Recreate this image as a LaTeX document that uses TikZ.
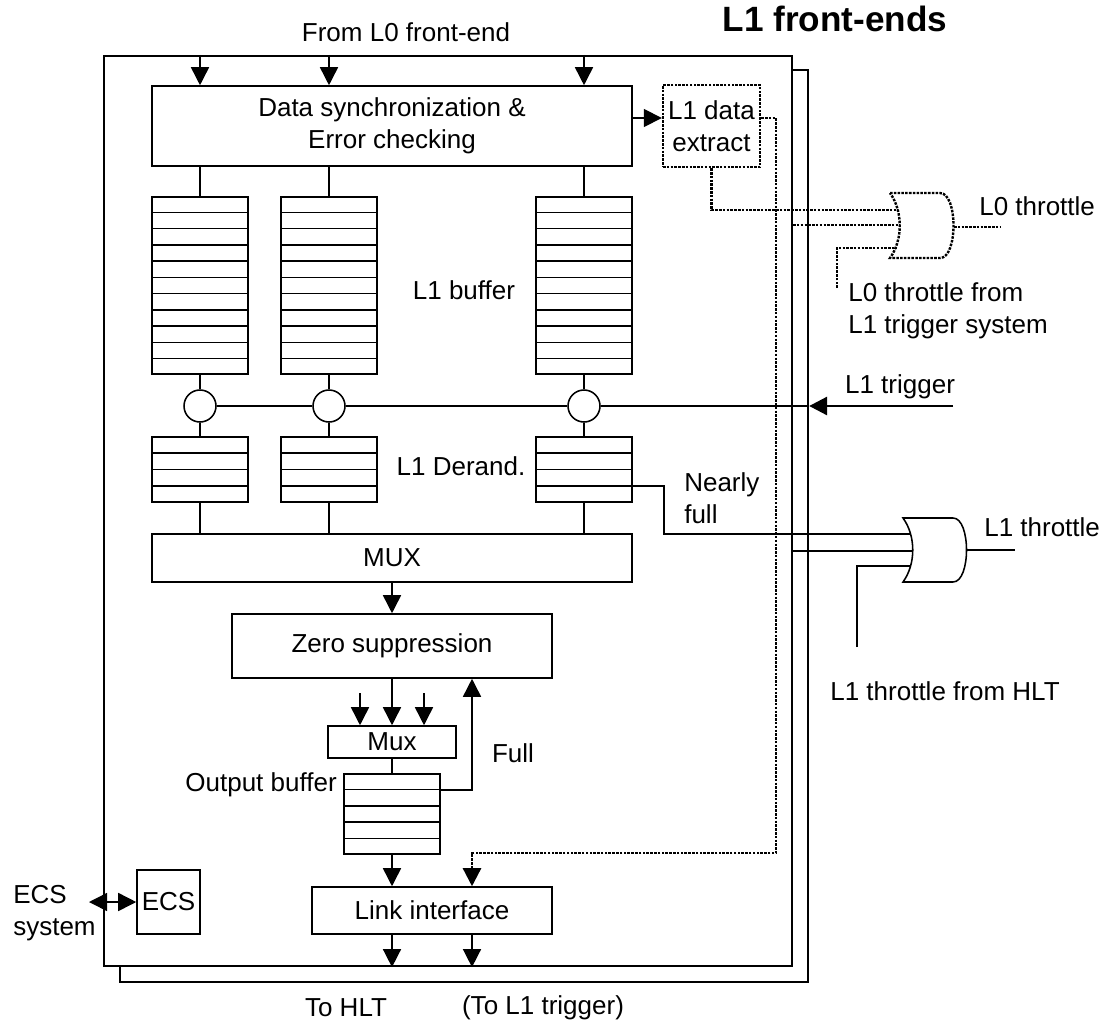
\documentclass[tikz,border=0pt]{standalone}
\usepackage{fontspec}
\setmainfont{Liberation Sans}
\usetikzlibrary{positioning, calc, arrows.meta}

\newcommand{\lblfont}{\fontsize{18.5}{22.7}\selectfont}

\begin{document}
\begin{tikzpicture}[x=0.25mm, y=-0.25mm,
    box/.style={draw, line width=1.1pt, fill=white, inner sep=0pt, align=center, font=\lblfont},
    board/.style={draw, line width=1.6pt, fill=white, inner sep=0pt},
    fifo/.style={box, minimum width=24mm},
    joint/.style={circle, draw, line width=1.1pt, fill=white, minimum size=8mm, inner sep=0pt},
    lbl/.style={inner sep=0pt, font=\lblfont},
    wire/.style={line width=1.1pt},
    dotline/.style={line width=1.7pt, dash pattern=on 1.8pt off 0.9pt},
    arr/.style={wire, ->},
    >={Triangle[length=4.5mm, width=4.5mm]}]
  \useasboundingbox (0,0) rectangle (1106,1025);

  % boards
  \node[board, minimum width=172mm, minimum height=228mm] (back) at (464,526) {};
  \node[board, minimum width=172mm, minimum height=227.5mm] (front) at (448,511) {};

  \node[lbl, font=\bfseries\fontsize{25}{30}\selectfont] (title) at (835,19) {L1 front-ends};
  \node[lbl] (from) at (406,32) {From L0 front-end};

  % data path
  \node[box, minimum width=120mm, minimum height=20mm] (sync) at (392,126) {Data synchronization \&\\Error checking};
  \node[box, dotline, minimum width=24.25mm, minimum height=20.5mm] (ext) at (711.5,126) {L1 data\\extract};

  \node[fifo, minimum height=44.25mm] (b1) at (200,285.5) {};
  \node[fifo, minimum height=44.25mm] (b2) at (329,285.5) {};
  \node[fifo, minimum height=44.25mm] (b3) at (584,285.5) {};
  \foreach \b in {b1,b2,b3}
    \foreach \k in {1,...,10}
      \draw[wire] ($(\b.north west)!{\k/11}!(\b.south west)$) -- ($(\b.north east)!{\k/11}!(\b.south east)$);
  \node[lbl] (bufl) at (464,290) {L1 buffer};

  \node[joint] (c1) at (200,406) {};
  \node[joint] (c2) at (329,406) {};
  \node[joint] (c3) at (584,406) {};

  \node[fifo, minimum height=16.25mm] (d1) at (200,469.5) {};
  \node[fifo, minimum height=16.25mm] (d2) at (329,469.5) {};
  \node[fifo, minimum height=16.25mm] (d3) at (584,469.5) {};
  \foreach \b in {d1,d2,d3}
    \foreach \k in {1,2,3}
      \draw[wire] ($(\b.north west)!{\k/4}!(\b.south west)$) -- ($(\b.north east)!{\k/4}!(\b.south east)$);
  \node[lbl] (derl) at (461,466) {L1 Derand.};

  \node[box, minimum width=120mm, minimum height=12mm] (mux) at (392,558) {MUX};
  \node[box, minimum width=80mm, minimum height=16mm] (zs) at (392,646) {Zero suppression};
  \node[box, minimum width=32mm, minimum height=8mm] (smux) at (392,742) {Mux};
  \node[fifo, minimum height=20mm] (ob) at (392,814) {};
  \foreach \k in {1,...,4}
    \draw[wire] ($(ob.north west)!{\k/5}!(ob.south west)$) -- ($(ob.north east)!{\k/5}!(ob.south east)$);
  \node[lbl, anchor=east] (obl) at (337,785) {Output buffer};
  \node[box, minimum width=60mm, minimum height=11.75mm] (link) at (432,910.5) {Link interface};
  \node[box, minimum width=15.75mm, minimum height=16mm] (ecs) at (168.5,902) {ECS};

  \foreach \i in {1,2,3} {
    \draw[arr] (front.north -| b\i) -- (sync.north -| b\i);
    \draw[wire] (sync.south -| b\i) -- (b\i.north);
    \draw[wire] (b\i.south) -- (c\i.north);
    \draw[wire] (c\i.south) -- (d\i.north);
    \draw[wire] (d\i.south) -- (mux.north -| d\i);
  }
  \draw[arr] ([yshift=2mm]sync.east) -- ([yshift=2mm]ext.west);

  \draw[arr] (mux) -- (zs);
  \draw[arr] (zs) -- (smux);
  \coordinate (inl) at (360,693);
  \coordinate (inr) at (424,693);
  \draw[arr] (inl) -- (inl |- smux.north);
  \draw[arr] (inr) -- (inr |- smux.north);
  \draw[wire] (smux) -- (ob);
  \draw[arr] ([yshift=6mm]ob.east) -| ([xshift=20mm]zs.south);
  \node[lbl] (fulll) at (513,753) {Full};
  \draw[arr] (ob) -- (ob |- link.north);
  \coordinate (tl1) at ([xshift=10mm]link.south);
  \draw[arr] (link.south -| ob) -- (front.south -| ob);
  \draw[arr] (tl1) -- (tl1 |- front.south);
  \node[lbl] (tohlt) at (346,1008) {To HLT};
  \node[lbl] (tol1) at (543,1008) {(To L1 trigger)};

  % ECS
  \coordinate (ecsl) at (89,902);
  \draw[wire, <->] (ecsl) -- (ecs.west);
  \node[lbl, anchor=west, align=left] (ecst) at (13,913) {ECS\\system};

  % L1 data extract -> link and L0 throttle
  \draw[dotline, ->] ([yshift=2mm]ext.east) -| (776,853) -| ([xshift=10mm]link.north);
  \draw[dotline, shift={(890,193)}] (0,0) -- (50,0) .. controls (68,0) and (68,65) .. (50,65)
    -- (0,65) .. controls (13,47) and (13,18) .. (0,0) -- cycle;
  \coordinate (g0a) at (898,210);
  \coordinate (g0b) at (900,225);
  \coordinate (g0c) at (896,248);
  \coordinate (g0o) at (954,227);
  \coordinate (l0in) at (837,288);
  \coordinate (l0out) at (1000,227);
  \draw[dotline] (ext.south) |- (g0a);
  \draw[dotline] (front.east |- g0b) -- (g0b);
  \draw[dotline] (l0in) |- (g0c);
  \draw[dotline] (g0o) -- (l0out);
  \node[lbl, anchor=west] (l0t) at (979,206) {L0 throttle};
  \node[lbl, anchor=west, align=left] (l0f) at (848,311) {L0 throttle from\\L1 trigger system};

  % L1 trigger
  \draw[line width=0.8pt] (c1) -- (c2);
  \draw[line width=0.8pt] (c2) -- (c3);
  \draw[line width=0.8pt] (c3) -- (back.east |- c3);
  \coordinate (trig) at (953,406);
  \draw[line width=2pt, ->] (trig) -- (back.east |- c3);
  \node[lbl] (trigl) at (900,387) {L1 trigger};

  % L1 throttle
  \draw[wire, shift={(903,518)}] (0,0) -- (50,0) .. controls (68,0) and (68,64) .. (50,64)
    -- (0,64) .. controls (13,46) and (13,18) .. (0,0) -- cycle;
  \coordinate (g1a) at (911,534);
  \coordinate (g1b) at (913,551);
  \coordinate (g1c) at (911,566);
  \coordinate (g1o) at (967,550);
  \coordinate (l1in) at (857,647);
  \coordinate (l1out) at (1015,550);
  \draw[wire] ([yshift=-4.125mm]d3.east) -| (664,534) -- (g1a);
  \draw[wire] (front.east |- g1b) -- (g1b);
  \draw[wire] (l1in) |- (g1c);
  \draw[wire] (g1o) -- (l1out);
  \node[lbl, anchor=west, align=left] (nfl) at (684,498) {Nearly\\full};
  \node[lbl, anchor=west] (l1t) at (984,527) {L1 throttle};
  \node[lbl] (l1f) at (945,691) {L1 throttle from HLT};
\end{tikzpicture}
\end{document}
